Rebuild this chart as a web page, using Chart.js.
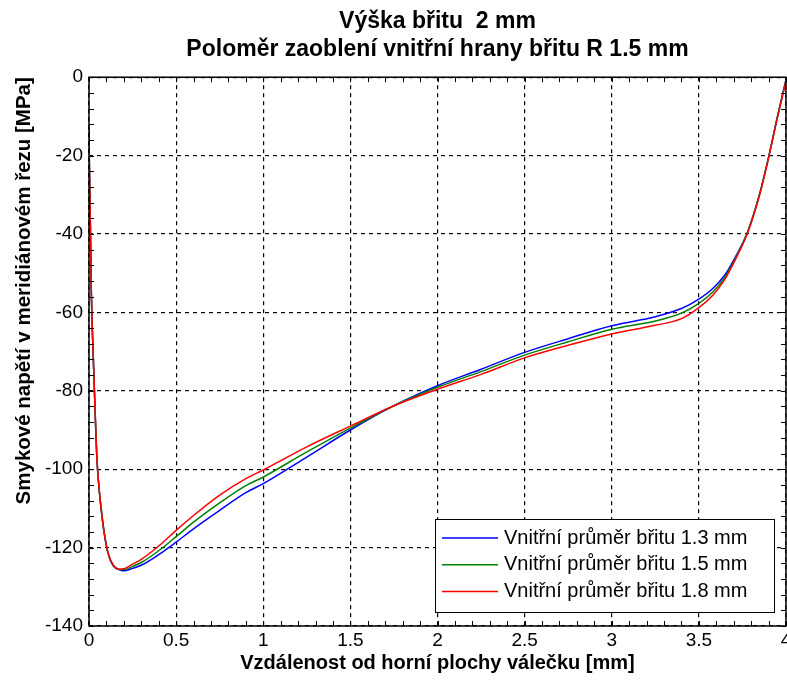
<!DOCTYPE html>
<html lang="cs">

<head>
    <meta charset="UTF-8">
    <title>Smykové napětí</title>
    <style>
        body { margin: 0; background: #fff; }
        #wrap { width: 787px; height: 684px; }
    </style>
</head>

<body>
    <div id="wrap"><canvas id="chartContainer" width="787" height="684"></canvas></div>

    <script src="https://cdn.jsdelivr.net/npm/chart.js"></script>

    <script>
        // vzdálenost od horní plochy [mm]
        const xValues = [0, 0.002, 0.008, 0.013, 0.025, 0.038, 0.045, 0.058, 0.072, 0.09,
            0.11, 0.14, 0.18, 0.2, 0.25, 0.3, 0.4, 0.5, 0.6, 0.75,
            0.9, 1.0, 1.25, 1.5, 1.75, 2.0, 2.25, 2.5, 2.75, 3.0,
            3.25, 3.4, 3.5, 3.58, 3.65, 3.72, 3.78, 3.85, 3.9, 3.95, 4.0];

        // smykové napětí [MPa]
        const d13 = [-13, -22, -38, -54, -72, -89, -97, -105, -111, -117,
            -121.5, -124.7, -125.7, -125.9, -125.3, -124.5, -121.8, -118.6, -115.2, -110.5,
            -106, -103.7, -96.9, -90, -83.8, -78.7, -74.5, -70.2, -66.7, -63.4,
            -61.1, -59.0, -56.6, -53.9, -50.4, -45, -39.4, -29.5, -20.4, -10.2, -0.6];
        const d15 = [-13, -22, -38, -54, -72, -89, -97, -105, -111, -117,
            -121.5, -124.6, -125.6, -125.6, -124.8, -123.8, -120.8, -117.2, -113.5, -108.6,
            -104.2, -102, -95.6, -89.5, -83.8, -79.1, -75.1, -70.9, -67.5, -64.3,
            -62.2, -60.2, -57.7, -54.8, -51, -45.3, -39.5, -29.6, -20.5, -10.3, -0.8];
        const d18 = [-13, -22, -38, -54, -72, -89, -97, -105, -111, -117,
            -121.5, -124.5, -125.5, -125.4, -124.2, -123, -119.6, -115.6, -111.8, -106.6,
            -102.4, -100.2, -94.3, -89, -83.8, -79.6, -75.8, -71.6, -68.4, -65.5,
            -63.3, -61.6, -58.8, -55.6, -51.5, -45.6, -39.7, -29.8, -20.6, -10.5, -1];

        const seriesLabels = ['Vnitřní průměr břitu 1.3 mm', 'Vnitřní průměr břitu 1.5 mm', 'Vnitřní průměr břitu 1.8 mm'];
        const seriesColors = ['#0000ff', '#008000', '#ff0000'];

        const titleLines = ['Výška břitu  2 mm', 'Poloměr zaoblení vnitřní hrany břitu R 1.5 mm'];
        const xTitle = 'Vzdálenost od horní plochy válečku [mm]';
        const yTitle = 'Smykové napětí v meridiánovém řezu [MPa]';

        const FONT = "'Liberation Sans', Arial, sans-serif";

        function toPoints(ys) {
            return xValues.map((x, i) => ({ x: x, y: ys[i] }));
        }

        // rámeček kolem grafu + malé ticky dovnitř
        const framePlugin = {
            id: 'frame',
            afterDraw(chart) {
                const ctx = chart.ctx;
                const a = chart.chartArea;
                const xs = chart.scales.x, ys = chart.scales.y;
                ctx.save();
                ctx.strokeStyle = '#000';
                ctx.lineWidth = 1;
                ctx.beginPath();
                for (let v = 0; v <= 4.0001; v += 0.1) {
                    const px = Math.round(xs.getPixelForValue(v)) + 0.5;
                    ctx.moveTo(px, a.bottom); ctx.lineTo(px, a.bottom - 5);
                    ctx.moveTo(px, a.top); ctx.lineTo(px, a.top + 5);
                }
                for (let v = -140; v <= 0.001; v += 4) {
                    const py = Math.round(ys.getPixelForValue(v)) + 0.5;
                    ctx.moveTo(a.left, py); ctx.lineTo(a.left + 5, py);
                    ctx.moveTo(a.right, py); ctx.lineTo(a.right - 5, py);
                }
                ctx.stroke();
                ctx.lineWidth = 1.5;
                ctx.strokeRect(a.left, a.top, a.right - a.left, a.bottom - a.top);
                ctx.restore();
            }
        };

        // legenda uvnitř grafu vpravo dole
        const legendPlugin = {
            id: 'boxLegend',
            afterDraw(chart) {
                const ctx = chart.ctx;
                const a = chart.chartArea;
                const w = 339, h = 93;
                const x0 = a.right - 12 - w, y0 = a.bottom - 14 - h;
                ctx.save();
                ctx.fillStyle = '#fff';
                ctx.fillRect(x0, y0, w, h);
                ctx.strokeStyle = '#000';
                ctx.lineWidth = 1;
                ctx.strokeRect(x0 + 0.5, y0 + 0.5, w, h);
                ctx.font = '20px ' + FONT;
                ctx.textBaseline = 'middle';
                chart.data.datasets.forEach((ds, i) => {
                    const y = y0 + 19 + i * 26.7;
                    ctx.strokeStyle = ds.borderColor;
                    ctx.lineWidth = 1.5;
                    ctx.beginPath();
                    ctx.moveTo(x0 + 7, y); ctx.lineTo(x0 + 63, y);
                    ctx.stroke();
                    ctx.fillStyle = '#000';
                    ctx.fillText(ds.label, x0 + 69, y);
                });
                ctx.restore();
            }
        };

        const ctx = document.getElementById('chartContainer').getContext('2d');
        new Chart(ctx, {
            type: 'line',
            data: {
                datasets: [0, 1, 2].map(i => ({
                    label: seriesLabels[i],
                    data: toPoints([d13, d15, d18][i]),
                    borderColor: seriesColors[i],
                    borderWidth: 1.5,
                    pointRadius: 0,
                    tension: 0,
                    cubicInterpolationMode: 'monotone',
                    order: 2 - i
                }))
            },
            options: {
                responsive: false,
                animation: false,
                layout: { padding: { left: 0, right: 1, top: 0, bottom: 0 } },
                plugins: {
                    legend: { display: false },
                    tooltip: { enabled: false },
                    title: {
                        display: true,
                        fullSize: false,
                        text: titleLines,
                        color: '#000',
                        font: { family: FONT, size: 23, weight: 'bold', lineHeight: 1.2 },
                        padding: { top: 8, bottom: 14 }
                    }
                },
                scales: {
                    x: {
                        type: 'linear',
                        min: 0, max: 4,
                        ticks: {
                            stepSize: 0.5,
                            color: '#000',
                            padding: 3,
                            maxRotation: 0,
                            font: { family: FONT, size: 19 },
                            callback: v => String(v)
                        },
                        grid: { color: '#000', lineWidth: 1.2, drawTicks: false },
                        border: { display: false, dash: [4, 4] },
                        title: {
                            display: true, text: xTitle, color: '#000',
                            font: { family: FONT, size: 20, weight: 'bold' },
                            padding: { top: 0, bottom: 9 }
                        },
                        afterFit(s) { s.height = 58; s.paddingLeft = 0; s.paddingRight = 0; }
                    },
                    y: {
                        min: -140, max: 0,
                        ticks: {
                            stepSize: 20,
                            color: '#000',
                            padding: 6,
                            font: { family: FONT, size: 19 }
                        },
                        grid: { color: '#000', lineWidth: 1.2, drawTicks: false },
                        border: { display: false, dash: [4, 4] },
                        title: {
                            display: true, text: yTitle, color: '#000',
                            align: 'end',
                            font: { family: FONT, size: 20.5, weight: 'bold' },
                            padding: { top: 12, bottom: 0 }
                        },
                        afterFit(s) { s.width = 89; s.paddingTop = 0; s.paddingBottom = 0; }
                    }
                }
            },
            plugins: [framePlugin, legendPlugin]
        });
    </script>
</body>

</html>
